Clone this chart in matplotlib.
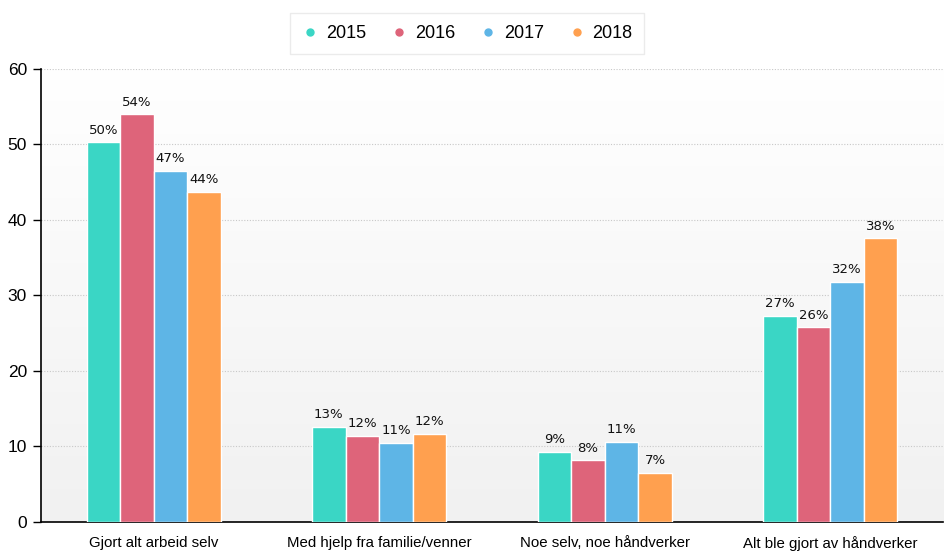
import matplotlib.pyplot as plt
import numpy as np
from matplotlib.lines import Line2D

categories = ["Gjort alt arbeid selv", "Med hjelp fra familie/venner",
              "Noe selv, noe håndverker", "Alt ble gjort av håndverker"]
years = ["2015", "2016", "2017", "2018"]
values_2015 = [50.3, 12.6, 9.3, 27.3]
values_2016 = [54.0, 11.4, 8.2, 25.8]
values_2017 = [46.5, 10.5, 10.6, 31.8]
values_2018 = [43.7, 11.7, 6.5, 37.6]
labels_2015 = ["50%", "13%", "9%", "27%"]
labels_2016 = ["54%", "12%", "8%", "26%"]
labels_2017 = ["47%", "11%", "11%", "32%"]
labels_2018 = ["44%", "12%", "7%", "38%"]
colors = ["#3ad6c5", "#de647a", "#5eb5e6", "#ffa04f"]

plt.rcParams['font.family'] = ['Liberation Sans', 'DejaVu Sans']

fig = plt.figure(figsize=(9.53, 5.59), dpi=100)
ax = fig.add_axes([0.043, 0.0662, 0.9465, 0.8104])

# background gradient, white at top to light gray at bottom
grad = np.linspace(1.0, 0.0, 256).reshape(-1, 1)
ax.imshow(grad, extent=[0, 1, 0, 1], transform=ax.transAxes, aspect='auto',
          cmap=plt.matplotlib.colors.LinearSegmentedColormap.from_list('bg', ['#f1f1f1', '#ffffff']),
          zorder=0)

x = np.arange(len(categories))
w = 0.149
all_vals = [values_2015, values_2016, values_2017, values_2018]
all_labels = [labels_2015, labels_2016, labels_2017, labels_2018]
for i, (vals, labs) in enumerate(zip(all_vals, all_labels)):
    pos = x + (i - 1.5) * w
    ax.bar(pos, vals, w, color=colors[i], edgecolor='white', linewidth=1, zorder=3)
    for px, v, lab in zip(pos, vals, labs):
        ax.annotate(lab, (px, v), xytext=(0, 4), textcoords='offset points',
                    ha='center', va='bottom', fontsize=9.5,
                    family='DejaVu Sans', color='#111111', zorder=4)

ax.set_xlim(-0.5, 3.5)
ax.set_ylim(0, 60)
ax.set_yticks([0, 10, 20, 30, 40, 50, 60])
ax.set_xticks(x)
ax.set_xticklabels(categories, fontsize=10.8)
ax.tick_params(axis='y', labelsize=12.5, length=6, width=1, pad=4)
ax.tick_params(axis='x', length=0, pad=10)
ax.yaxis.grid(True, linestyle=(0, (1, 1.5)), color='#c8c8c8', linewidth=0.8, zorder=1)
ax.set_axisbelow(True)
for s in ['top', 'right']:
    ax.spines[s].set_visible(False)
ax.spines['left'].set_linewidth(1.2)
ax.spines['bottom'].set_linewidth(1.2)

handles = [Line2D([], [], marker='o', linestyle='none', markersize=5,
                  markerfacecolor=c, markeredgecolor=c) for c in colors]
leg = fig.legend(handles, years, loc='upper center', bbox_to_anchor=(0.49, 0.992),
                 ncol=4, fontsize=13, frameon=True, fancybox=False,
                 edgecolor='#e6e6e6', handlelength=1.0, handletextpad=0.35,
                 columnspacing=1.35, borderpad=0.65)
leg.get_frame().set_linewidth(1)

fig.savefig("out.png", dpi=100)
